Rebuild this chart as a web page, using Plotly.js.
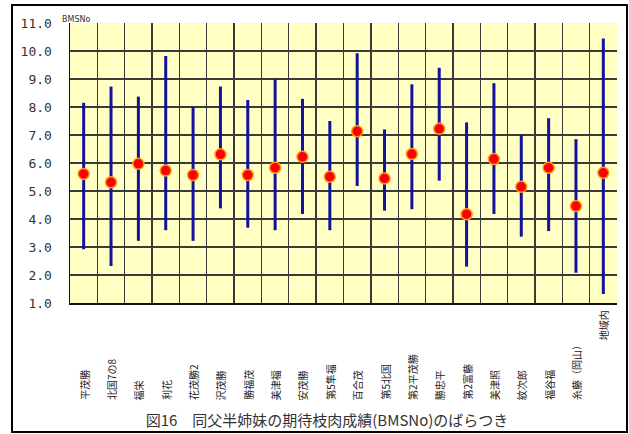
<!DOCTYPE html>
<html>
<head>
<meta charset="utf-8">
<script src="https://cdn.plot.ly/plotly-3.0.1.min.js"></script>
<style>
  html, body { margin: 0; padding: 0; background: #ffffff; }
  #chart { width: 629px; height: 434px; }
</style>
</head>
<body>
<div id="chart"></div>
<script>
// Sires (same-sire half-sister groups) and their expected BMSNo spread
const categories = [
  '平茂勝', '北国7の8', '福栄', '利花', '花茂勝2', '沢茂勝', '勝福茂', '美津福', '安茂勝', '第5隼福',
  '百合茂', '第5北国', '第2平茂勝', '勝忠平', '第2富藤', '美津照', '紋次郎', '福谷福', '糸藤（岡山）', '地域内'
];
const meanBMS = [5.61, 5.31, 5.97, 5.73, 5.57, 6.31, 5.57, 5.83, 6.22, 5.51,
                 7.13, 5.45, 6.32, 7.22, 4.17, 6.14, 5.15, 5.83, 4.46, 5.65];
const maxBMS  = [8.15, 8.73, 8.37, 9.82, 8.00, 8.73, 8.25, 8.99, 8.29, 7.50,
                 9.92, 7.20, 8.81, 9.40, 7.45, 8.85, 7.00, 7.60, 6.85, 10.45];
const minBMS  = [2.92, 2.32, 3.22, 3.60, 3.22, 4.38, 3.69, 3.60, 4.18, 3.60,
                 5.18, 4.30, 4.35, 5.37, 2.30, 4.18, 3.37, 3.57, 2.08, 1.32];
const yTickValues = [1, 2, 3, 4, 5, 6, 7, 8, 9, 10, 11];

const titleText = '図16　同父半姉妹の期待枝肉成績(BMSNo)のばらつき';
const yUnitText = 'BMSNo';

// plot-area geometry in pixels
const W = 629, H = 434;
const M = { l: 70, r: 12, t: 23, b: 131 };
const plotW = W - M.l - M.r, plotH = H - M.t - M.b;
const px = x => (x - M.l) / plotW;          // pixel x -> paper x
const py = y => (H - M.b - y) / plotH;      // pixel y -> paper y

const jpFont = '"Noto Sans CJK JP", "Noto Sans", sans-serif';

const rangeTrace = {
  type: 'scatter',
  mode: 'markers',
  x: categories,
  y: meanBMS,
  marker: { color: '#ff0000', size: 11, line: { color: '#ff9a1a', width: 1.5 } },
  error_y: {
    type: 'data',
    symmetric: false,
    array: maxBMS.map((v, i) => v - meanBMS[i]),
    arrayminus: minBMS.map((v, i) => meanBMS[i] - v),
    width: 0,
    thickness: 3,
    color: '#12129c'
  },
  hoverinfo: 'x+y',
  showlegend: false
};

// category names written vertically under the plot
const labelAnnotations = categories.map((name, i) => {
  const nearAxis = i === categories.length - 1;
  return {
    text: name,
    x: name, xref: 'x',
    y: nearAxis ? py(308) : py(402), yref: 'paper',
    xanchor: 'center',
    yanchor: nearAxis ? 'top' : 'bottom',
    textangle: -90,
    showarrow: false,
    font: { family: jpFont, size: 10, color: '#222222' }
  };
});

const layout = {
  width: W, height: H,
  margin: M,
  paper_bgcolor: '#ffffff',
  plot_bgcolor: '#ffffc4',
  title: {
    text: titleText,
    xref: 'paper', x: px(327), xanchor: 'center',
    yref: 'container', y: 1 - 421 / H, yanchor: 'middle',
    font: { family: jpFont, size: 15, color: '#333333' }
  },
  xaxis: {
    type: 'category',
    range: [-0.5, categories.length - 0.5],
    tickson: 'boundaries',
    showgrid: true,
    gridcolor: '#3a3a3a',
    gridwidth: 1.4,
    showticklabels: false,
    ticks: '',
    showline: true,
    linecolor: '#111111',
    linewidth: 1.5,
    fixedrange: true
  },
  yaxis: {
    range: [1, 11],
    tickvals: yTickValues,
    tickformat: '.1f',
    showgrid: true,
    gridcolor: '#3a3a3a',
    gridwidth: 1.4,
    zeroline: false,
    showline: true,
    linecolor: '#111111',
    linewidth: 1.5,
    ticks: 'outside',
    ticklen: 14,
    tickcolor: 'rgba(0,0,0,0)',
    tickfont: { family: '"DejaVu Sans Mono", monospace', size: 13, color: '#333333' },
    fixedrange: true
  },
  annotations: labelAnnotations.concat([{
    text: yUnitText,
    xref: 'paper', x: px(60), xanchor: 'left',
    yref: 'paper', y: py(19), yanchor: 'middle',
    showarrow: false,
    font: { family: '"DejaVu Sans", sans-serif', size: 8, color: '#333333' }
  }]),
  shapes: [{
    type: 'rect', xref: 'paper', yref: 'paper',
    x0: px(12), x1: px(627), y0: py(432), y1: py(5),
    line: { color: '#000000', width: 2 },
    fillcolor: 'rgba(0,0,0,0)',
    layer: 'below'
  }]
};

Plotly.newPlot('chart', [rangeTrace], layout, { displayModeBar: false, staticPlot: true });
</script>
</body>
</html>
